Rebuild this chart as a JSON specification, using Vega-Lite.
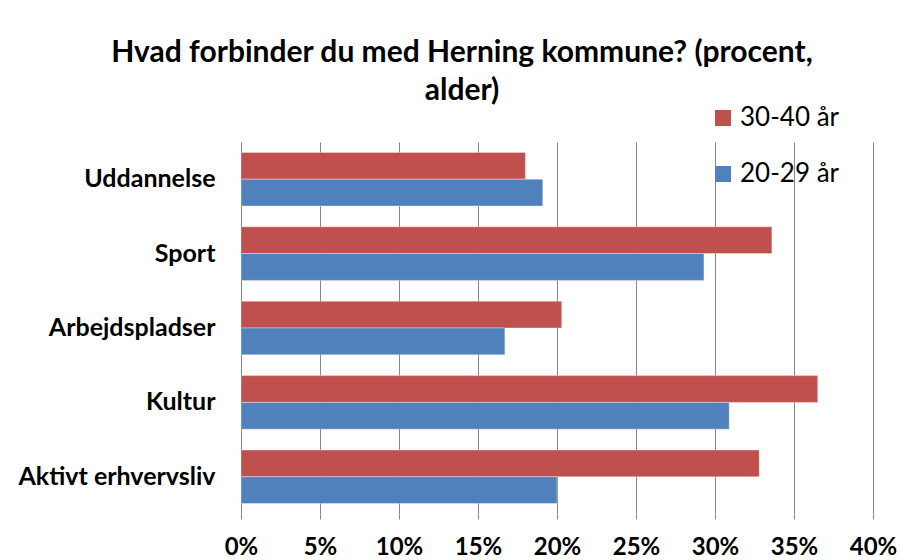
{
  "$schema": "https://vega.github.io/schema/vega-lite/v6.json",
  "autosize": "none",
  "width": 632,
  "height": 372,
  "padding": {"left": 241, "top": 142, "right": 29, "bottom": 46},
  "background": "white",
  "title": {
    "text": ["Hvad forbinder du med Herning kommune? (procent,", "alder)"],
    "font": "Lato",
    "fontSize": 30,
    "fontWeight": "bold",
    "color": "black",
    "lineHeight": 38,
    "anchor": "middle",
    "dx": -95,
    "offset": -1
  },
  "data": {
    "values": [
      {"kategori": "Uddannelse", "alder": "30-40 år", "andel": 0.180},
      {"kategori": "Uddannelse", "alder": "20-29 år", "andel": 0.191},
      {"kategori": "Sport", "alder": "30-40 år", "andel": 0.336},
      {"kategori": "Sport", "alder": "20-29 år", "andel": 0.293},
      {"kategori": "Arbejdspladser", "alder": "30-40 år", "andel": 0.203},
      {"kategori": "Arbejdspladser", "alder": "20-29 år", "andel": 0.167},
      {"kategori": "Kultur", "alder": "30-40 år", "andel": 0.365},
      {"kategori": "Kultur", "alder": "20-29 år", "andel": 0.309},
      {"kategori": "Aktivt erhvervsliv", "alder": "30-40 år", "andel": 0.328},
      {"kategori": "Aktivt erhvervsliv", "alder": "20-29 år", "andel": 0.200}
    ]
  },
  "mark": {"type": "bar", "stroke": "white", "strokeWidth": 0.6, "strokeOpacity": 0.6},
  "encoding": {
    "y": {
      "field": "kategori",
      "type": "nominal",
      "sort": ["Uddannelse", "Sport", "Arbejdspladser", "Kultur", "Aktivt erhvervsliv"],
      "scale": {"paddingInner": 0.28, "paddingOuter": 0.14},
      "axis": {
        "title": null,
        "labelFont": "Lato",
        "labelFontSize": 25,
        "labelFontWeight": "bold",
        "labelColor": "black",
        "labelPadding": 26,
        "labelLimit": 300,
        "ticks": false,
        "domainColor": "#868686",
        "domainWidth": 1
      }
    },
    "yOffset": {
      "field": "alder",
      "type": "nominal",
      "sort": ["30-40 år", "20-29 år"],
      "scale": {"paddingInner": 0, "paddingOuter": 0}
    },
    "x": {
      "field": "andel",
      "type": "quantitative",
      "scale": {"domain": [0, 0.4], "nice": false},
      "axis": {
        "title": null,
        "format": ".0%",
        "values": [0, 0.05, 0.1, 0.15, 0.2, 0.25, 0.3, 0.35, 0.4],
        "labelFont": "Lato",
        "labelFontSize": 24,
        "labelFontWeight": "bold",
        "labelColor": "black",
        "labelPadding": 16,
        "labelFlush": false,
        "labelOverlap": false,
        "tickSize": 5,
        "tickColor": "#868686",
        "domain": false,
        "grid": true,
        "gridColor": "#868686",
        "gridWidth": 1
      }
    },
    "color": {
      "field": "alder",
      "type": "nominal",
      "sort": ["30-40 år", "20-29 år"],
      "scale": {"domain": ["30-40 år", "20-29 år"], "range": ["#C0504D", "#4F81BD"]},
      "legend": {
        "title": null,
        "orient": "none",
        "legendX": 469,
        "legendY": -37,
        "symbolType": "square",
        "symbolSize": 256,
        "symbolStrokeWidth": 0,
        "labelFont": "Lato",
        "labelFontSize": 26,
        "labelColor": "black",
        "labelOffset": 4,
        "rowPadding": 30
      }
    }
  },
  "config": {"view": {"stroke": null}}
}
